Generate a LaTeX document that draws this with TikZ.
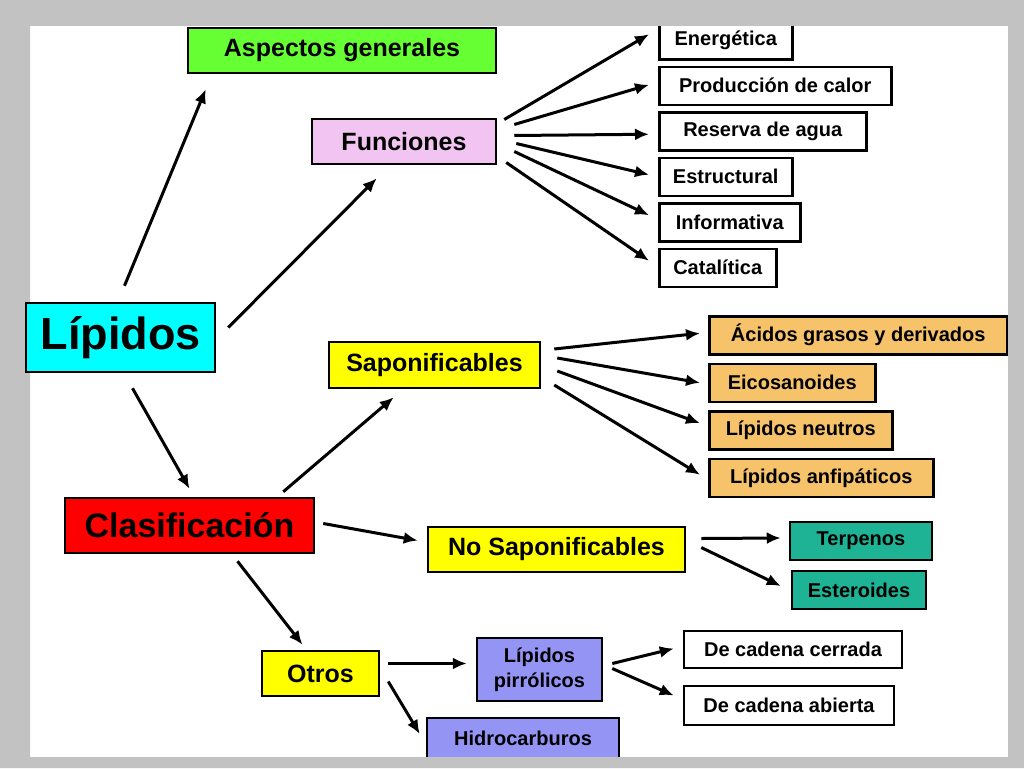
\documentclass[tikz,border=0pt]{standalone}
\usepackage{fontspec}
\setmainfont{Liberation Sans}
\usepackage{tikz}
\usetikzlibrary{arrows.meta,positioning}
\definecolor{LPGreen}{HTML}{66FF33}
\definecolor{LPPink}{HTML}{F2C4F2}
\definecolor{LPCyan}{HTML}{00FFFF}
\definecolor{LPYellow}{HTML}{FFFF00}
\definecolor{LPRed}{HTML}{FF0000}
\definecolor{LPOrange}{HTML}{F6C36B}
\definecolor{LPTeal}{HTML}{1DB394}
\definecolor{LPViolet}{HTML}{9494F5}

\begin{document}
\begin{tikzpicture}[
    x=1pt, y=-1pt,
    node distance=5pt,
    box/.style={draw=black,line width=2.5pt,inner sep=0pt,minimum height=38pt,align=center,font=\bfseries\fontsize{20}{25}\selectfont},
    bigbox/.style={box,minimum height=45pt,font=\bfseries\fontsize{25}{30}\selectfont},
    arrow/.style={-{Latex[length=14pt,width=12pt]},line width=3pt}
  ]
  \useasboundingbox (0,0) rectangle (1024,768);
  \fill[white] (0,0) rectangle (1024,768);

  % top level
  \node[bigbox,fill=LPGreen,minimum width=308pt] (asp) at (342,50.5) {Aspectos generales};
  \node[bigbox,fill=LPPink,minimum width=184pt] (fun) at (404,141.5) {Funciones};
  \node[box,fill=LPRed,minimum width=249pt,minimum height=55pt,font=\bfseries\fontsize{34}{40}\selectfont] (cla) at (189.5,525.5) {Clasificación};

  % funciones
  \node[box,fill=white,minimum width=133pt,anchor=north west] (ene) at (658,20) {Energética};
  \node[box,fill=white,minimum width=232pt,below=5pt of ene.south west,anchor=north west] (pro) {Producción de calor};
  \node[box,fill=white,minimum width=207pt,below=5pt of pro.south west,anchor=north west] (res) {Reserva de agua};
  \node[box,fill=white,minimum width=133pt,below=5pt of res.south west,anchor=north west] (est) {Estructural};
  \node[box,fill=white,minimum width=141pt,below=5pt of est.south west,anchor=north west] (inf) {Informativa};
  \node[box,fill=white,minimum width=117pt,below=5pt of inf.south west,anchor=north west] (cat) {Catalítica};

  % clasificacion
  \node[bigbox,fill=LPYellow,minimum width=211pt,minimum height=46pt] (sap) at (434.5,365) {Saponificables};
  \node[bigbox,fill=LPYellow,minimum width=257pt] (nos) at (556.5,549.5) {No Saponificables};
  \node[bigbox,fill=LPYellow,minimum width=117pt] (otr) at (320.5,673.5) {Otros};

  \node[box,fill=LPOrange,minimum width=298pt,anchor=north west] (aci) at (708,315) {Ácidos grasos y derivados};
  \node[box,fill=LPOrange,minimum width=166pt,below=7pt of aci.south west,anchor=north west] (eic) {Eicosanoides};
  \node[box,fill=LPOrange,minimum width=183pt,below=7pt of eic.south west,anchor=north west] (neu) {Lípidos neutros};
  \node[box,fill=LPOrange,minimum width=224pt,below=7pt of neu.south west,anchor=north west] (anf) {Lípidos anfipáticos};

  \node[box,fill=LPTeal,minimum width=142pt] (ter) at (861,541) {Terpenos};
  \node[box,fill=LPTeal,minimum width=134pt] (ste) at (859,590) {Esteroides};

  \node[box,fill=LPViolet,minimum width=125pt,minimum height=63pt] (pir) at (539.5,669.5) {Lípidos\\pirrólicos};
  \node[box,fill=LPViolet,minimum width=192pt,minimum height=40pt] (hid) at (523,738) {Hidrocarburos};
  \node[box,fill=white,minimum width=218pt,minimum height=37pt] (cer) at (793,649.5) {De cadena cerrada};
  \node[box,fill=white,minimum width=210pt,minimum height=39pt] (abi) at (789,705.5) {De cadena abierta};

  % slide frame
  \fill[black!24,even odd rule] (0,0) rectangle (1024,768) (30,26) rectangle (1008,757);

  \node[draw=black,line width=2.5pt,fill=LPCyan,minimum width=189pt,minimum height=69pt,font=\bfseries\fontsize{45}{50}\selectfont] (lip) at (120.5,337.5) {Lípidos};

  % arrows
  \draw[arrow] ([shift={(4,-16)}]lip.north) -- ([shift={(19,15)}]asp.south west);
  \draw[arrow] ([shift={(12,-10)}]lip.east) -- ([shift={(66,13)}]fun.south west);
  \draw[arrow] ([shift={(12,15)}]lip.south) -- ([shift={(0,-8)}]cla.north);

  \draw[arrow] ([shift={(7,-22)}]fun.east) -- ([shift={(-9,-6)}]ene.west);
  \draw[arrow] ([shift={(17,-17)}]fun.east) -- ([shift={(-9,-1)}]pro.west);
  \draw[arrow] ([shift={(17,-6)}]fun.east) -- ([shift={(-9,3)}]res.west);
  \draw[arrow] ([shift={(19,2)}]fun.east) -- ([shift={(-9,-2)}]est.west);
  \draw[arrow] ([shift={(17,10)}]fun.east) -- ([shift={(-9,-7)}]inf.west);
  \draw[arrow] ([shift={(9,21)}]fun.east) -- ([shift={(-9,-7)}]cat.west);

  \draw[arrow] ([shift={(-32,-5)}]cla.north east) -- ([shift={(66,8)}]sap.south west);
  \draw[arrow] ([shift={(8,-2)}]cla.east) -- ([shift={(-9,-9)}]nos.west);
  \draw[arrow] ([shift={(48,7)}]cla.south) -- ([shift={(-18,-5)}]otr.north);

  \draw[arrow] ([shift={(13,-16)}]sap.east) -- ([shift={(-8,-2)}]aci.west);
  \draw[arrow] ([shift={(16,-7)}]sap.east) -- ([shift={(-8,0)}]eic.west);
  \draw[arrow] ([shift={(16,6)}]sap.east) -- ([shift={(-8,-7)}]neu.west);
  \draw[arrow] ([shift={(13,20)}]sap.east) -- ([shift={(-8,-3)}]anf.west);

  \draw[arrow] ([shift={(15,-11)}]nos.east) -- ([shift={(-8,-3)}]ter.west);
  \draw[arrow] ([shift={(15,-2)}]nos.east) -- ([shift={(-10,-4)}]ste.west);

  \draw[arrow] ([shift={(8,-10)}]otr.east) -- ([shift={(-9,-6)}]pir.west);
  \draw[arrow] ([shift={(8,8)}]otr.east) -- ([shift={(-6,-4)}]hid.west);
  \draw[arrow] ([shift={(9,-6)}]pir.east) -- ([shift={(-9,-1)}]cer.west);
  \draw[arrow] ([shift={(9,-1)}]pir.east) -- ([shift={(-9,-10)}]abi.west);
\end{tikzpicture}
\end{document}
